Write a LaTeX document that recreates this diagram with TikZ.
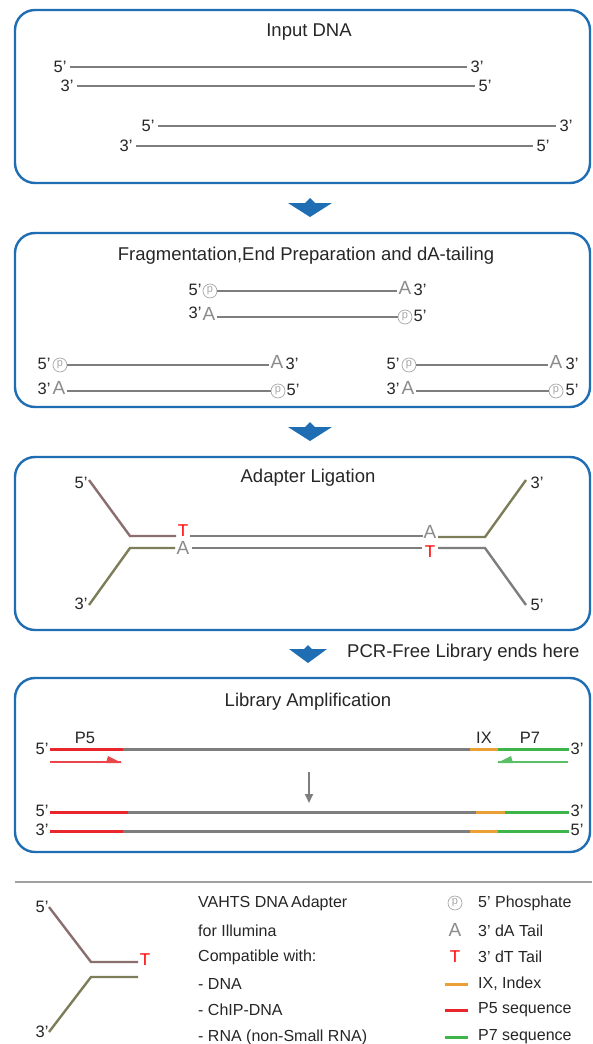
\documentclass[tikz,border=0pt]{standalone}
\usepackage{fontspec}
\setmainfont{Liberation Sans}
\usetikzlibrary{arrows.meta}
\definecolor{boxblue}{HTML}{1F6EB4}
\definecolor{strand}{HTML}{7E7E7E}
\definecolor{brownad}{HTML}{8B6E6E}
\definecolor{olivead}{HTML}{7D7D5A}
\definecolor{pfive}{HTML}{E8262B}
\definecolor{pseven}{HTML}{3DB54A}
\definecolor{ixo}{HTML}{EBA035}
\definecolor{atail}{HTML}{8C8C8C}
\definecolor{phosc}{HTML}{A8A8A8}
\definecolor{sepgray}{HTML}{A0A0A0}
\tikzset{
  stepbox/.style={draw=boxblue, line width=2.4pt, rounded corners=20pt},
  title/.style={font=\fontsize{18.5}{21}\selectfont, text=black!85, inner sep=0pt},
  lab/.style={font=\fontsize{16.5}{18}\selectfont, text=black!85, inner sep=0pt},
  strandline/.style={draw=strand, line width=2.6pt},
  adline/.style={line width=2.4pt},
  atl/.style={font=\fontsize{19}{20}\selectfont, text=atail, inner sep=0pt},
  ttl/.style={font=\fontsize{17}{20}\selectfont, text=red, inner sep=0pt},
  phos/.style={circle, draw=phosc, line width=0.7pt, text=phosc, inner sep=0pt,
               minimum size=14pt, font=\fontsize{11}{11}\selectfont},
  bluearrow/.style={fill=boxblue, draw=none},
  legtext/.style={font=\fontsize{16}{18}\selectfont, text=black!85, anchor=west, inner sep=0pt},
  seg/.style={line width=3pt},
  primer/.style={line width=1.6pt},
}
\begin{document}
\begin{tikzpicture}[x=1pt,y=-1pt]
\path[use as bounding box, fill=white] (0,0) rectangle (592,1044);

% ---------- Box 1: Input DNA ----------
\draw[stepbox] (15,10) rectangle (590,183);
\node[title] (t1) at (309,32) {Input DNA};
\node[lab] (a1) at (60,67) {5'};
\node[lab] (a2) at (477,67) {3'};
\draw[strandline] ([xshift=3pt]a1.east) -- ([xshift=-3pt]a2.west);
\node[lab] (b1) at (67,86) {3'};
\node[lab] (b2) at (485,86) {5'};
\draw[strandline] ([xshift=3pt]b1.east) -- ([xshift=-3pt]b2.west);
\node[lab] (c1) at (148,126) {5'};
\node[lab] (c2) at (566,126) {3'};
\draw[strandline] ([xshift=3pt]c1.east) -- ([xshift=-3pt]c2.west);
\node[lab] (d1) at (126,146) {3'};
\node[lab] (d2) at (543,146) {5'};
\draw[strandline] ([xshift=3pt]d1.east) -- ([xshift=-3pt]d2.west);

% arrow 1
\fill[bluearrow] (288,203) -- (305,203) -- (310,198) -- (315,203) -- (332,203) -- (310,217) -- cycle;

% ---------- Box 2: Fragmentation ----------
\draw[stepbox] (15,233) rectangle (590,407);
\node[title] (t2) at (306,256) {Fragmentation,End Preparation and dA-tailing};
% centre fragment
\node[lab] (e1) at (195,290) {5'};
\node[phos] (e2) at (210,291) {p};
\node[atl] (e3) at (405,288) {A};
\node[lab] (e4) at (420,290) {3'};
\draw[strandline] (e2.east) -- ([xshift=-1pt]e3.west |- e2.east);
\node[lab] (f1) at (195,313) {3'};
\node[atl] (f2) at (209,314) {A};
\node[phos] (f3) at (405,317) {p};
\node[lab] (f4) at (420,316) {5'};
\draw[strandline] ([xshift=1pt]f2.east |- f3.west) -- (f3.west);
% left fragment
\node[lab] (g1) at (44,364) {5'};
\node[phos] (g2) at (60,365) {p};
\node[atl] (g3) at (277,362) {A};
\node[lab] (g4) at (292,364) {3'};
\draw[strandline] (g2.east) -- ([xshift=-1pt]g3.west |- g2.east);
\node[lab] (h1) at (44,389) {3'};
\node[atl] (h2) at (59,388) {A};
\node[phos] (h3) at (278,391) {p};
\node[lab] (h4) at (293,390) {5'};
\draw[strandline] ([xshift=1pt]h2.east |- h3.west) -- (h3.west);
% right fragment
\node[lab] (i1) at (393,364) {5'};
\node[phos] (i2) at (409,365) {p};
\node[atl] (i3) at (556,362) {A};
\node[lab] (i4) at (572,364) {3'};
\draw[strandline] (i2.east) -- ([xshift=-1pt]i3.west |- i2.east);
\node[lab] (j1) at (393,389) {3'};
\node[atl] (j2) at (408,388) {A};
\node[phos] (j3) at (556,391) {p};
\node[lab] (j4) at (572,390) {5'};
\draw[strandline] ([xshift=1pt]j2.east |- j3.west) -- (j3.west);

% arrow 2
\fill[bluearrow] (288,427) -- (305,427) -- (310,422) -- (315,427) -- (332,427) -- (310,441) -- cycle;

% ---------- Box 3: Adapter Ligation ----------
\draw[stepbox] (15,457) rectangle (590,630);
\node[title] (t3) at (308,478) {Adapter Ligation};
\node[lab] (k1) at (81,483) {5'};
\node[lab] (k2) at (81,604) {3'};
\node[lab] (k3) at (537,483) {3'};
\node[lab] (k4) at (537,605) {5'};
\node[ttl] (kT1) at (183,531) {T};
\node[atl] (kA1) at (183,548) {A};
\node[atl] (kA2) at (430,532) {A};
\node[ttl] (kT2) at (430,552) {T};
\coordinate (l1) at (89,480);
\coordinate (l2) at (89,605);
\coordinate (r1) at (526,480);
\coordinate (r2) at (526,605);
\draw[adline, draw=brownad] (l1) -- (130,536) -- (176,536);
\draw[adline, draw=olivead] (l2) -- (130,548) -- (175,548);
\draw[strandline] (190,536) -- (423,536);
\draw[strandline] (192,548) -- (422,548);
\draw[adline, draw=olivead] (438,537) -- (485,537) -- (r1);
\draw[adline, draw=strand] (438,548) -- (485,548) -- (r2);

% arrow 3 + note
\fill[bluearrow] (289,649) -- (304,649) -- (308,645) -- (312,649) -- (327,649) -- (308,663) -- cycle;
\node[title, anchor=west] (pcr) at (347,653) {PCR-Free Library ends here};

% ---------- Box 4: Library Amplification ----------
\draw[stepbox] (15,678) rectangle (590,852);
\node[title] (t4) at (308,702) {Library Amplification};
\node[lab] (p5) at (85,738) {P5};
\node[lab] (ix) at (484,738) {IX};
\node[lab] (p7) at (530,738) {P7};
% row 1
\node[lab] (m1) at (42,749) {5'};
\node[lab] (m2) at (577,749) {3'};
\coordinate (m1s) at (50,749);
\coordinate (m2s) at (569,749);
\draw[seg, draw=pfive] (m1s) -- (123,749);
\draw[seg, draw=strand] (123,749) -- (470,749);
\draw[seg, draw=ixo] (470,749) -- (498,749);
\draw[seg, draw=pseven] (498,749) -- (m2s);
% primers
\draw[primer, draw=pfive!85] (50,762) -- (121,762);
\fill[pfive!85] (106,763) -- (108,756) -- (122,763) -- cycle;
\draw[primer, draw=pseven!85] (568,762) -- (498,762);
\fill[pseven!85] (497,763) -- (511,756) -- (513,763) -- cycle;
% gray arrow
\draw[draw=strand, line width=1.8pt, -{Triangle[width=8pt,length=9pt]}] (309,772) -- (309,803);
% row 2
\node[lab] (n1) at (42,811) {5'};
\node[lab] (n2) at (577,811) {3'};
\draw[seg, draw=pfive] (50,812) -- (128,812);
\draw[seg, draw=strand] (128,812) -- (476,812);
\draw[seg, draw=ixo] (476,812) -- (505,812);
\draw[seg, draw=pseven] (505,812) -- (569,812);
% row 3
\node[lab] (o1) at (42,830) {3'};
\node[lab] (o2) at (577,830) {5'};
\draw[seg, draw=pfive] (50,831) -- (123,831);
\draw[seg, draw=strand] (123,831) -- (470,831);
\draw[seg, draw=ixo] (470,831) -- (498,831);
\draw[seg, draw=pseven] (498,831) -- (569,831);

% ---------- Legend ----------
\draw[draw=sepgray, line width=2.6pt] (15,882) -- (592,882);
\node[lab] (q1) at (42,907) {5'};
\node[lab] (q2) at (42,1032) {3'};
\node[ttl] (qT) at (145,960) {T};
\draw[adline, draw=brownad] (49,907) -- (91,962) -- (138,962);
\draw[adline, draw=olivead] (138,977) -- (91,977) -- (49,1032);

\node[legtext] (v1) at (198,903) {VAHTS DNA\,Adapter};
\node[legtext] (v2) at (198,931) {for Illumina};
\node[legtext] (v3) at (198,957) {Compatible with:};
\node[legtext] (v4) at (198,984) {- DNA};
\node[legtext] (v5) at (198,1010) {- ChIP-DNA};
\node[legtext] (v6) at (198,1037) {- RNA (non-Small RNA)};

\node[phos] (w1) at (455,903) {p};
\node[atl] (w2) at (455,930) {A};
\node[ttl] (w3) at (455,957) {T};
\draw[seg, draw=ixo] (445,984) -- (468,984);
\draw[seg, draw=pfive] (445,1010) -- (468,1010);
\draw[seg, draw=pseven] (445,1037) -- (468,1037);
\node[legtext] (x1) at (478,903) {5' Phosphate};
\node[legtext] (x2) at (478,931) {3' dA Tail};
\node[legtext] (x3) at (478,957) {3' dT Tail};
\node[legtext] (x4) at (478,984) {IX, Index};
\node[legtext] (x5) at (478,1010) {P5 sequence};
\node[legtext] (x6) at (478,1037) {P7 sequence};
\end{tikzpicture}
\end{document}
